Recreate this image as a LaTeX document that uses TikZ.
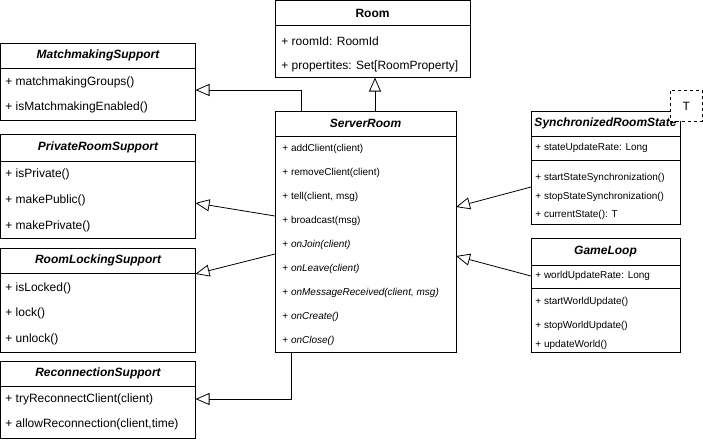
\documentclass[tikz,border=0pt]{standalone}
\usepackage{fontspec}
\setmainfont{Liberation Sans}
\usetikzlibrary{arrows.meta,positioning}
\tikzstyle{classhead}=[draw,rectangle,outer sep=0pt,inner sep=0pt,font=\fontsize{12}{14}\selectfont\bfseries\itshape]
\tikzstyle{classbody}=[draw,rectangle,outer sep=0pt,inner sep=0pt]
\tikzstyle{member}=[anchor=west,inner sep=0pt,font=\fontsize{12}{14}\selectfont]
\tikzstyle{smallmember}=[anchor=west,inner sep=0pt,font=\fontsize{10}{12}\selectfont]
\tikzstyle{abstractmember}=[anchor=west,inner sep=0pt,font=\fontsize{10}{12}\selectfont\itshape]
\tikzstyle{extends}=[-{Triangle[open,length=14pt,width=12pt]}]

\begin{document}
\begin{tikzpicture}[x=1pt,y=-1pt,line width=0.8pt]
\useasboundingbox (0,0) rectangle (703,442);

% base class
\node [classhead,font=\fontsize{12}{14}\selectfont\bfseries,minimum width=195pt,minimum height=25pt,anchor=north west] (room) at (275,0.5) {Room};
\node [classbody,minimum width=195pt,minimum height=52pt,below=0pt of room] (roombody) {};
\node [member] (roomid) at (281,41) {+ roomId: RoomId};
\node [member] (roomprops) at (281,66) {+ propertites: Set[RoomProperty]};

\node [classhead,minimum width=181pt,minimum height=25pt,anchor=north west] (srv) at (275,111) {ServerRoom};
\node [classbody,minimum width=181pt,minimum height=216pt,below=0pt of srv] (srvbody) {};
\node [smallmember] (srv1) at (282,149) {+ addClient(client)};
\node [smallmember] (srv2) at (282,173) {+ removeClient(client)};
\node [smallmember] (srv3) at (282,197) {+ tell(client, msg)};
\node [smallmember] (srv4) at (282,221) {+ broadcast(msg)};
\node [abstractmember] (srv5) at (282,245) {\upshape+ \itshape onJoin(client)};
\node [abstractmember] (srv6) at (282,269) {\upshape+ \itshape onLeave(client)};
\node [abstractmember] (srv7) at (282,293) {\upshape+ \itshape onMessageReceived(client, msg)};
\node [abstractmember] (srv8) at (282,317) {\upshape+ \itshape onCreate()};
\node [abstractmember] (srv9) at (282,341) {\upshape+ \itshape onClose()};

% mixins on the left
\node [classhead,minimum width=195pt,minimum height=25pt,anchor=north west] (mm) at (0.5,43) {MatchmakingSupport};
\node [classbody,minimum width=195pt,minimum height=52pt,below=0pt of mm] (mmbody) {};
\node [member] (mm1) at (5,82) {+ matchmakingGroups()};
\node [member] (mm2) at (5,107) {+ isMatchmakingEnabled()};

\node [classhead,minimum width=195pt,minimum height=27pt,anchor=north west] (pr) at (0.5,134) {PrivateRoomSupport};
\node [classbody,minimum width=195pt,minimum height=77pt,below=0pt of pr] (prbody) {};
\node [member] (pr1) at (5,174) {+ isPrivate()};
\node [member] (pr2) at (5,200) {+ makePublic()};
\node [member] (pr3) at (5,226) {+ makePrivate()};

\node [classhead,minimum width=195pt,minimum height=25pt,anchor=north west] (lock) at (0.5,248) {RoomLockingSupport};
\node [classbody,minimum width=195pt,minimum height=79pt,below=0pt of lock] (lockbody) {};
\node [member] (lock1) at (5,288) {+ isLocked()};
\node [member] (lock2) at (5,313) {+ lock()};
\node [member] (lock3) at (5,339) {+ unlock()};

\node [classhead,minimum width=195pt,minimum height=25pt,anchor=north west] (rc) at (0.5,361) {ReconnectionSupport};
\node [classbody,minimum width=195pt,minimum height=52pt,below=0pt of rc] (rcbody) {};
\node [member] (rc1) at (5,399) {+ tryReconnectClient(client)};
\node [member] (rc2) at (5,424) {+ allowReconnection(client,time)};

% mixins on the right
\node [classhead,minimum width=149pt,minimum height=25pt,anchor=north west] (srs) at (531,111) {SynchronizedRoomState};
\node [classbody,minimum width=149pt,minimum height=24pt,below=0pt of srs] (srsattr) {};
\node [classbody,minimum width=149pt,minimum height=64pt,below=0pt of srsattr] (srsops) {};
\node [smallmember] (srs1) at (535,148) {+ stateUpdateRate: Long};
\node [smallmember] (srs2) at (535,178) {+ startStateSynchronization()};
\node [smallmember] (srs3) at (535,197) {+ stopStateSynchronization()};
\node [smallmember] (srs4) at (535,215) {+ currentState(): T};
\node [draw,dashed,fill=white,minimum width=32pt,minimum height=31pt,anchor=north west,font=\fontsize{12}{14}\selectfont] (tparam) at (670,90) {T};

\node [classhead,minimum width=149pt,minimum height=27pt,anchor=north west] (gl) at (531,238) {GameLoop};
\node [classbody,minimum width=149pt,minimum height=23pt,below=0pt of gl] (glattr) {};
\node [classbody,minimum width=149pt,minimum height=64pt,below=0pt of glattr] (glops) {};
\node [smallmember] (gl1) at (535,276) {+ worldUpdateRate: Long};
\node [smallmember] (gl2) at (535,302) {+ startWorldUpdate()};
\node [smallmember] (gl3) at (535,326) {+ stopWorldUpdate()};
\node [smallmember] (gl4) at (535,345) {+ updateWorld()};

% inheritance
\draw [extends] (srv.north -| 375,0) -- (roombody.south -| 375,0);
\draw [extends] (srv.north -| 301,0) |- (mmbody.east |- 0,90);
\draw [extends] (srvbody.west |- 0,216) -- (prbody.east |- 0,203);
\draw [extends] (srvbody.west |- 0,254) -- (lockbody.east |- 0,274);
\draw [extends] (srvbody.south -| 291,0) |- (rcbody.east |- 0,399);
\draw [extends] (srsops.west |- 0,187) -- (srvbody.east |- 0,207);
\draw [extends] (glattr.west |- 0,276) -- (srvbody.east |- 0,256);
\end{tikzpicture}
\end{document}
